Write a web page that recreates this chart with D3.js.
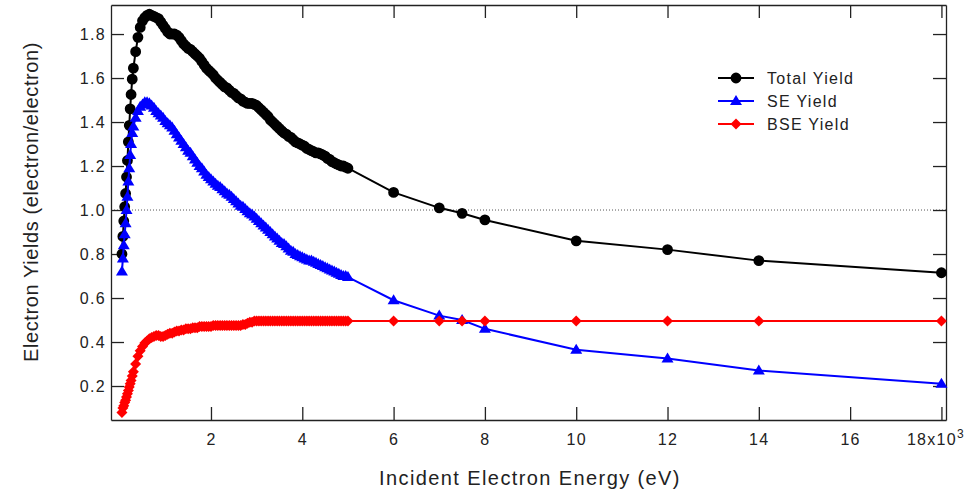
<!DOCTYPE html>
<html>
<head>
<meta charset="utf-8">
<script src="https://cdn.jsdelivr.net/npm/d3@7"></script>
<style>
  html, body { margin: 0; padding: 0; background: #fff; }
  svg { display: block; }
  text { font-family: "Liberation Sans", Arial, sans-serif; fill: #222; }
</style>
</head>
<body>
<svg id="chart" width="975" height="490"></svg>
<script>
// Incident electron energy (eV)
const energy = [
  50, 70, 90, 110, 130, 150, 170, 190, 210, 230, 250, 275, 300,
  350, 400, 450, 500, 550, 600, 650, 700, 750, 800,
  850, 900, 950, 1000, 1050, 1100, 1150, 1200, 1250, 1300,
  1350, 1400, 1450, 1500, 1550, 1600, 1650, 1700, 1750, 1800,
  1850, 1900, 1950, 2000, 2050, 2100, 2150, 2200, 2250, 2300,
  2350, 2400, 2450, 2500, 2550, 2600, 2650, 2700, 2750, 2800,
  2850, 2900, 2950, 3000, 3050, 3100, 3150, 3200, 3250, 3300,
  3350, 3400, 3450, 3500, 3550, 3600, 3650, 3700, 3750, 3800,
  3850, 3900, 3950, 4000, 4050, 4100, 4150, 4200, 4250, 4300,
  4350, 4400, 4450, 4500, 4550, 4600, 4650, 4700, 4750, 4800,
  4850, 4900, 4950, 5000,
  6000, 7000, 7500, 8000, 10000, 12000, 14000, 18000
];

const totalYield = [
  0.80, 0.88, 0.95, 1.015, 1.075, 1.15, 1.225, 1.31, 1.385, 1.46, 1.525, 1.595, 1.645,
  1.72, 1.785, 1.83, 1.86, 1.875, 1.885, 1.89, 1.885, 1.88, 1.875,
  1.87, 1.855, 1.84, 1.825, 1.81, 1.80, 1.80, 1.80, 1.795, 1.785,
  1.77, 1.755, 1.745, 1.735, 1.73, 1.72, 1.71, 1.70, 1.69, 1.675,
  1.66, 1.645, 1.635, 1.625, 1.615, 1.60, 1.59, 1.58, 1.57, 1.56,
  1.555, 1.545, 1.535, 1.53, 1.52, 1.51, 1.505, 1.495, 1.49, 1.485,
  1.485, 1.485, 1.48, 1.475, 1.465, 1.455, 1.445, 1.435, 1.425, 1.41,
  1.40, 1.39, 1.38, 1.37, 1.36, 1.35, 1.345, 1.335, 1.33, 1.32,
  1.31, 1.305, 1.30, 1.295, 1.29, 1.28, 1.275, 1.27, 1.265, 1.26,
  1.26, 1.255, 1.25, 1.245, 1.235, 1.23, 1.22, 1.215, 1.21, 1.205,
  1.20, 1.20, 1.195, 1.19,
  1.08, 1.01, 0.985, 0.955, 0.86, 0.82, 0.77, 0.715
];

const seYield = [
  0.72, 0.78, 0.84, 0.89, 0.94, 1.00, 1.06, 1.13, 1.19, 1.25, 1.30, 1.35, 1.38,
  1.42, 1.45, 1.47, 1.48, 1.49, 1.49, 1.485, 1.475, 1.465, 1.45,
  1.44, 1.43, 1.42, 1.405, 1.395, 1.385, 1.375, 1.36, 1.345, 1.33,
  1.315, 1.30, 1.285, 1.27, 1.26, 1.245, 1.23, 1.215, 1.20, 1.19,
  1.175, 1.16, 1.15, 1.14, 1.13, 1.12, 1.11, 1.105, 1.095, 1.085,
  1.075, 1.07, 1.06, 1.05, 1.04, 1.03, 1.02, 1.015, 1.005, 0.995,
  0.985, 0.98, 0.97, 0.96, 0.95, 0.94, 0.93, 0.92, 0.91, 0.90,
  0.89, 0.88, 0.87, 0.86, 0.85, 0.845, 0.835, 0.825, 0.815, 0.81,
  0.80, 0.795, 0.79, 0.785, 0.78, 0.775, 0.77, 0.77, 0.765, 0.76,
  0.755, 0.75, 0.745, 0.74, 0.735, 0.73, 0.725, 0.72, 0.715, 0.71,
  0.705, 0.70, 0.70, 0.695,
  0.59, 0.52, 0.50, 0.46, 0.365, 0.325, 0.27, 0.21
];

const bseYield = [
  0.08, 0.10, 0.11, 0.125, 0.135, 0.15, 0.165, 0.18, 0.195, 0.21, 0.225, 0.245, 0.265,
  0.30, 0.335, 0.36, 0.38, 0.395, 0.405, 0.415, 0.42, 0.425, 0.43,
  0.43, 0.425, 0.425, 0.43, 0.435, 0.44, 0.44, 0.445, 0.45, 0.45,
  0.455, 0.455, 0.46, 0.46, 0.46, 0.465, 0.465, 0.465, 0.47, 0.47,
  0.47, 0.47, 0.47, 0.47, 0.475, 0.475, 0.475, 0.475, 0.475, 0.475,
  0.475, 0.475, 0.475, 0.475, 0.475, 0.475, 0.475, 0.48, 0.48, 0.485,
  0.49, 0.49, 0.495, 0.495, 0.495, 0.495, 0.495, 0.495, 0.495, 0.495,
  0.495, 0.495, 0.495, 0.495, 0.495, 0.495, 0.495, 0.495, 0.495, 0.495,
  0.495, 0.495, 0.495, 0.495, 0.495, 0.495, 0.495, 0.495, 0.495, 0.495,
  0.495, 0.495, 0.495, 0.495, 0.495, 0.495, 0.495, 0.495, 0.495, 0.495,
  0.495, 0.495, 0.495, 0.495,
  0.495, 0.495, 0.495, 0.495, 0.495, 0.495, 0.495, 0.495
];

const seriesNames = ["Total Yield", "SE Yield", "BSE Yield"];
const xTicks = [2000, 4000, 6000, 8000, 10000, 12000, 14000, 16000, 18000];
const xTickLabels = ["2", "4", "6", "8", "10", "12", "14", "16", "18x10"];
const yTicks = [0.2, 0.4, 0.6, 0.8, 1.0, 1.2, 1.4, 1.6, 1.8];
const yTickLabels = ["0.2", "0.4", "0.6", "0.8", "1.0", "1.2", "1.4", "1.6", "1.8"];
const referenceLine = [1.0];

const svg = d3.select("#chart");
svg.append("rect").attr("width", 975).attr("height", 490).attr("fill", "#fff");

const L = 111, R = 946, T = 5, B = 420;
const x = d3.scaleLinear().domain([-190, 18100]).range([L, R]);
const y = d3.scaleLinear().domain([0.0455, 1.932]).range([B, T]);

const series = [
  { name: seriesNames[0], values: totalYield, color: "#000000", marker: "circle" },
  { name: seriesNames[1], values: seYield, color: "#0000ff", marker: "triangle" },
  { name: seriesNames[2], values: bseYield, color: "#ff0000", marker: "diamond" }
];

function markerPath(kind) {
  if (kind === "triangle") return "M0,-6L6,4L-6,4Z";
  if (kind === "diamond") return "M0,-5.5L5.5,0L0,5.5L-5.5,0Z";
  return d3.symbol().type(d3.symbolCircle).size(92)();
}

// dotted reference line
svg.append("g").selectAll("line").data(referenceLine).join("line")
  .attr("x1", L).attr("x2", R)
  .attr("y1", d => y(d)).attr("y2", d => y(d))
  .attr("stroke", "#555").attr("stroke-width", 1).attr("stroke-dasharray", "1,2");

// axes
const tickFont = g => g.selectAll("text")
  .style("font-family", "'Liberation Sans', Arial, sans-serif")
  .style("font-size", "16px").style("letter-spacing", "1.3px").attr("fill", "#222");

const axB = svg.append("g").attr("transform", `translate(0,${B})`)
  .call(d3.axisBottom(x).tickValues(xTicks).tickSize(-13).tickSizeOuter(0).tickPadding(14)
    .tickFormat((d, i) => xTickLabels[i]));
axB.call(tickFont);
const lastTick = axB.selectAll(".tick").filter((d, i, n) => i === n.length - 1).select("text");
lastTick.attr("text-anchor", "middle").attr("x", -6);
lastTick.append("tspan").attr("dy", "-0.6em").style("font-size", "12px").text("3");

const axL = svg.append("g").attr("transform", `translate(${L},0)`)
  .call(d3.axisLeft(y).tickValues(yTicks).tickSize(-13).tickSizeOuter(0).tickPadding(5)
    .tickFormat((d, i) => yTickLabels[i]));
axL.call(tickFont);

svg.append("g").attr("transform", `translate(0,${T})`)
  .call(d3.axisTop(x).tickValues(xTicks).tickSize(-13).tickSizeOuter(0).tickFormat(""));
svg.append("g").attr("transform", `translate(${R},0)`)
  .call(d3.axisRight(y).tickValues(yTicks).tickSize(-13).tickSizeOuter(0).tickFormat(""));

svg.selectAll(".domain").attr("stroke", "#222").attr("stroke-width", 1.3);
svg.selectAll(".tick line").attr("stroke", "#222").attr("stroke-width", 1.3);

// series
const line = d3.line().x(d => x(d[0])).y(d => y(d[1]));
const plot = svg.append("g");
series.forEach(s => {
  const pts = energy.map((e, i) => [e, s.values[i]]);
  const g = plot.append("g");
  g.append("path").datum(pts).attr("d", line)
    .attr("fill", "none").attr("stroke", s.color).attr("stroke-width", 2);
  g.selectAll("path.m").data(pts).join("path").attr("class", "m")
    .attr("transform", d => `translate(${x(d[0])},${y(d[1])})`)
    .attr("d", markerPath(s.marker)).attr("fill", s.color);
});

// legend
const lg = svg.append("g");
series.forEach((s, i) => {
  const ly = 78 + i * 23;
  lg.append("line").attr("x1", 718).attr("x2", 754).attr("y1", ly).attr("y2", ly)
    .attr("stroke", s.color).attr("stroke-width", 2);
  lg.append("path").attr("transform", `translate(736,${ly})`).attr("d", markerPath(s.marker)).attr("fill", s.color);
  lg.append("text").attr("x", 767).attr("y", ly + 6).text(s.name)
    .style("font-size", "16px").style("letter-spacing", "1.3px");
});

// axis titles
svg.append("text").attr("x", 530).attr("y", 485).attr("text-anchor", "middle")
  .style("font-size", "20px").style("letter-spacing", "1.4px")
  .text("Incident Electron Energy (eV)");
svg.append("text").attr("transform", "translate(38,202) rotate(-90)").attr("text-anchor", "middle")
  .style("font-size", "20px").style("letter-spacing", "0.6px")
  .text("Electron Yields (electron/electron)");
</script>
</body>
</html>
